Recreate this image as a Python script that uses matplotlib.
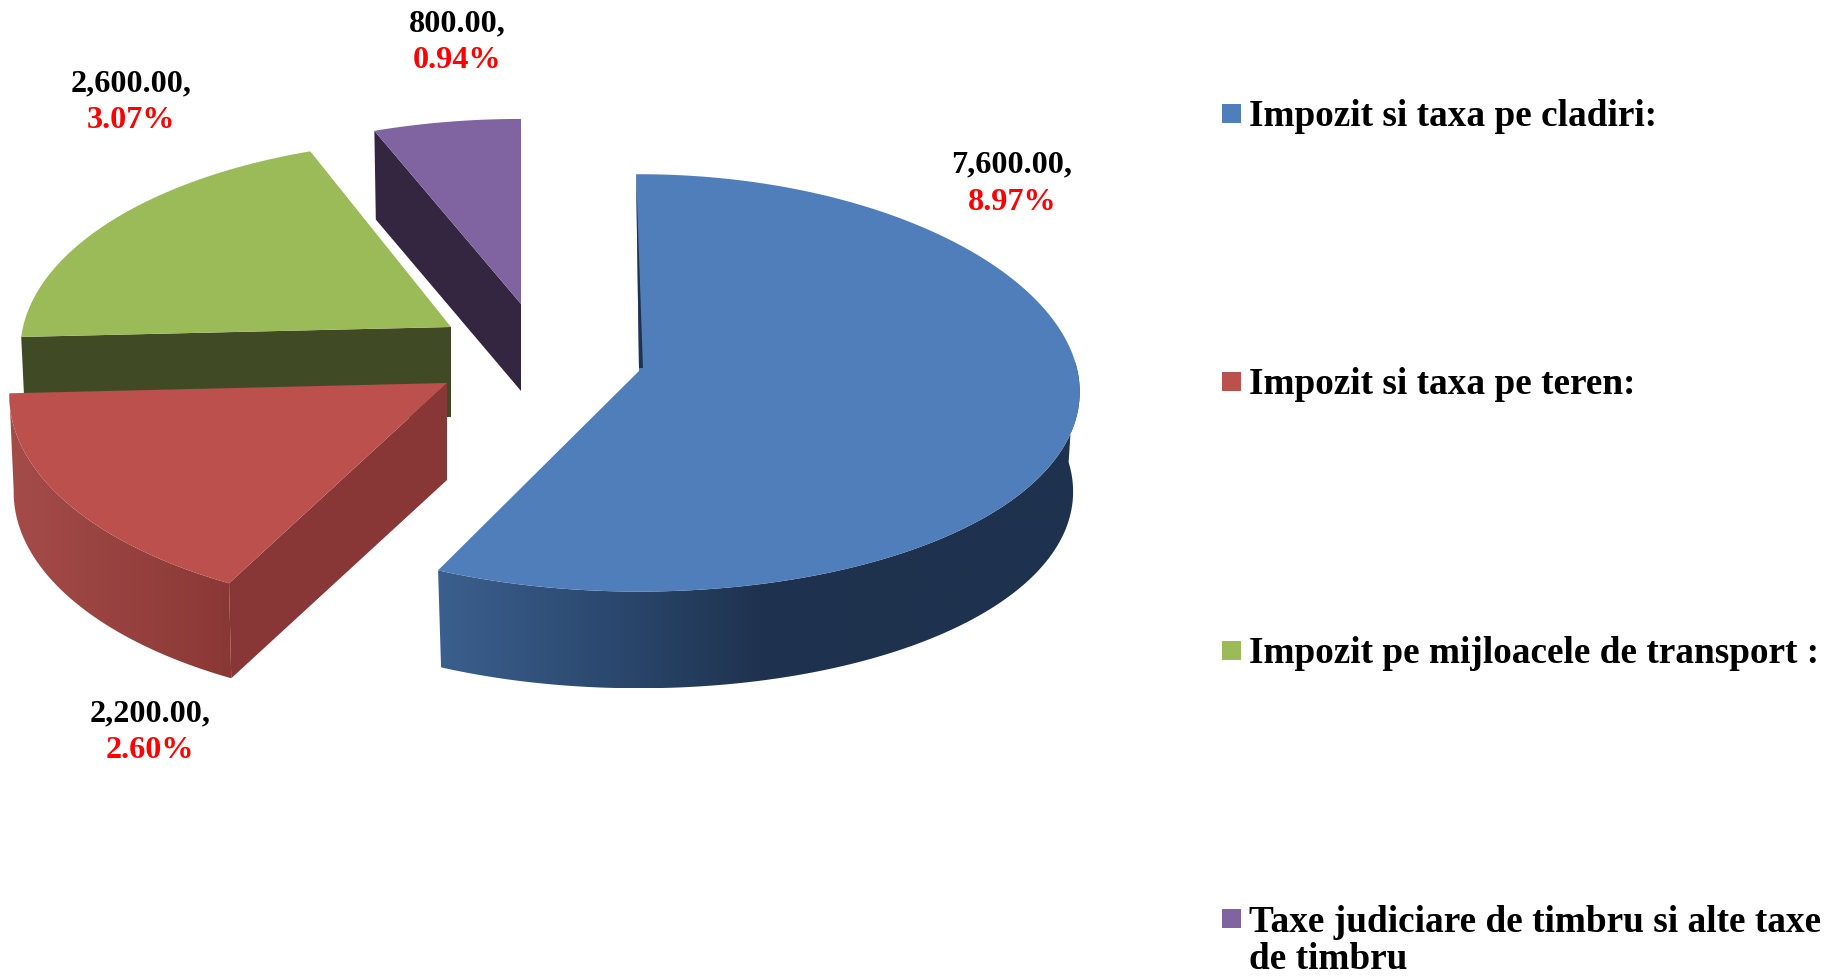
import numpy as np
import matplotlib
matplotlib.use('Agg')
import matplotlib.pyplot as plt
from matplotlib.colors import LinearSegmentedColormap
from matplotlib.patches import Polygon, Rectangle

plt.rcParams['font.family'] = ['Liberation Serif', 'DejaVu Serif']

# values
categories = ['Impozit si taxa pe cladiri:', 'Impozit si taxa pe teren:',
              'Impozit pe mijloacele de transport :',
              'Taxe judiciare de timbru si alte taxe\nde timbru']
values = [7600, 2200, 2600, 800]
value_labels = ['7,600.00,', '2,200.00,', '2,600.00,', '800.00,']
percent_labels = ['8.97%', '2.60%', '3.07%', '0.94%']

# styles
top_colors = ['#4F7EBA', '#BC504D', '#9BBB59', '#8064A2']
inner_colors = ['#1F3350', '#893636', '#404B25', '#342640']
label_pos = [(1012, 165), (150, 714), (131, 84), (457, 24)]
legend_y = [113, 381.5, 650, 918.5]

# exploded pie geometry, in pixels of the figure
apex = [(639, 371), (447, 383), (451, 327), (521, 304)]
rx = [440, 437, 428, 440]
ry = [208, 216, 208, 208]
persp = [0.057, 0.057, 0.111, 0.124]
depth = [100, 97, 90, 87]
side_sag = [9, 0, 0, 0]
# the picture's perspective moves the slice edges a little, degrees
start_shift = [-0.4, 1.0, 0, 0]
end_shift = [-1.6, 0, 0.55, 0]


def rim(theta, i, scale=1.0, drop=0.0):
    w = 1 + persp[i] * np.cos(theta)
    x = apex[i][0] + scale * rx[i] * np.sin(theta) / w
    y = apex[i][1] - scale * ry[i] * np.cos(theta) / w + drop + side_sag[i] * np.sin(theta) ** 2
    return np.column_stack([x, y])


def gradient_wall(ax, pts, colors, zorder):
    cmap = LinearSegmentedColormap.from_list('wall', colors)
    x0, x1 = pts[:, 0].min(), pts[:, 0].max()
    y0, y1 = pts[:, 1].min(), pts[:, 1].max()
    im = ax.imshow(np.linspace(0, 1, 256).reshape(1, -1), cmap=cmap, aspect='auto',
                   extent=(x0, x1, y1, y0), zorder=zorder)
    patch = Polygon(pts, closed=True, transform=ax.transData, fc='none', ec='none')
    ax.add_patch(patch)
    im.set_clip_path(patch)


fig = plt.figure(figsize=(18.39, 9.77), dpi=100)
ax = fig.add_axes([0, 0, 1, 1])

edges = np.concatenate([[0], np.cumsum(values)]) / sum(values) * 360
starts = np.radians(edges[:-1] + start_shift)
ends = np.radians(edges[1:] + end_shift)


def top_face(i, zorder):
    pts = np.vstack([[apex[i]], rim(np.linspace(starts[i], ends[i], 200), i)])
    ax.add_patch(Polygon(pts, closed=True, fc=top_colors[i], ec='none', zorder=zorder))


def inner_face(i, theta, zorder):
    p = rim(np.array([theta]), i)[0]
    q = rim(np.array([theta]), i, scale=0.99, drop=depth[i])[0]
    a = np.array(apex[i])
    pts = [a, p, q, a + [0, depth[i]]]
    ax.add_patch(Polygon(pts, closed=True, fc=inner_colors[i], ec='none', zorder=zorder))


# green, at the back
inner_face(2, starts[2], 1)
top_face(2, 2)

# purple
inner_face(3, starts[3], 1)
top_face(3, 2)

# red, outer wall then inner wall then top
t = np.linspace(starts[1], ends[1], 200)
wall = np.vstack([rim(t, 1), rim(t[::-1], 1, scale=0.99, drop=depth[1])])
gradient_wall(ax, wall, ['#A44C49', '#8A3836'], 3)
inner_face(1, starts[1], 4)
top_face(1, 5)

# blue, outer wall and top with the thin sliver of the hidden wall
t = np.linspace(np.radians(85), ends[0], 300)
wall = np.vstack([rim(t, 0), rim(t[::-1], 0, scale=0.985, drop=depth[0])])
gradient_wall(ax, wall, ['#3B5F8E', '#2C4A70', '#1F3350', '#1E324E', '#1E324E'], 6)
top_face(0, 7)
p0 = rim(np.array([starts[0]]), 0)[0]
sliver = [p0, (apex[0][0], apex[0][1] - 3), (apex[0][0] + 4, apex[0][1] - 3)]
ax.add_patch(Polygon(sliver, closed=True, fc=inner_colors[0], ec='none', zorder=8))

# data labels, value in black and percent in red
for (x, y), val, pct in zip(label_pos, value_labels, percent_labels):
    ax.text(x, y, val, color='black', fontsize=23.2, fontweight='bold', ha='center', va='center')
    ax.text(x, y + 37, pct, color='#FF0000', fontsize=23.2, fontweight='bold', ha='center', va='center')

# legend
for i, name in enumerate(categories):
    y = legend_y[i]
    ax.add_patch(Rectangle((1222, y - 9.5), 19, 19, fc=top_colors[i], ec='none'))
    ax.text(1249, y - 14, name, color='black', fontsize=26.85, fontweight='bold',
            ha='left', va='top', linespacing=1.1)

ax.set_xlim(0, 1839)
ax.set_ylim(977, 0)
ax.axis('off')
fig.savefig('out.png', dpi=100, facecolor='white')
